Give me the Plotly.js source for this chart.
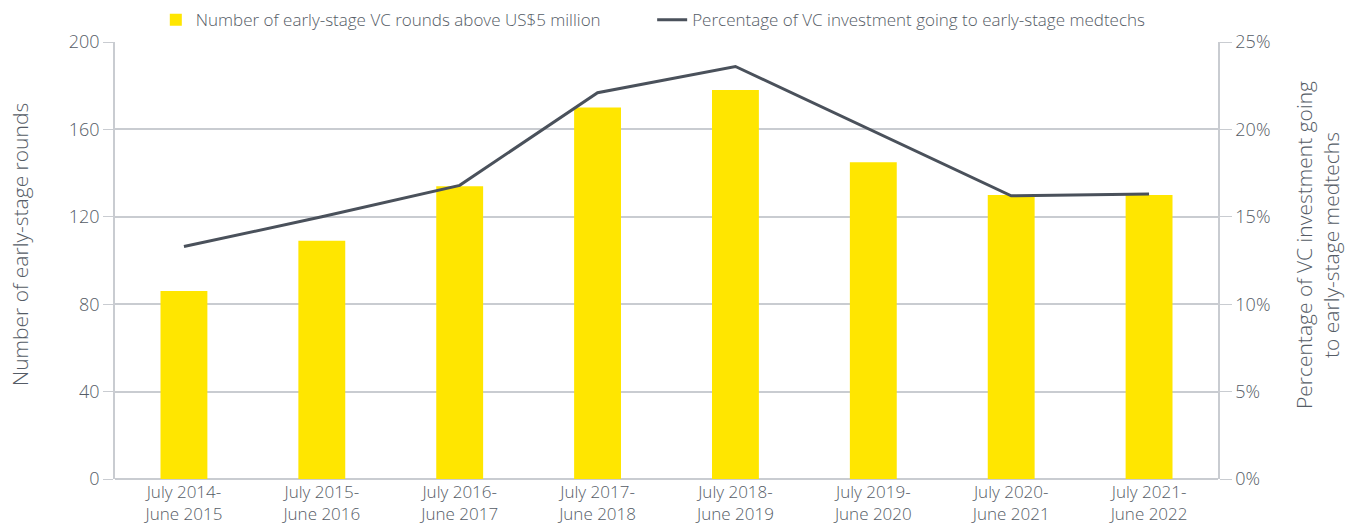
<!DOCTYPE html>
<html><head><meta charset="utf-8">
<script src="https://cdn.plot.ly/plotly-3.0.1.min.js"></script>
<style>html,body{margin:0;padding:0;background:#fff;}#chart{width:1346px;height:529px;}</style>
</head><body><div id="chart"></div>
<script>
var categories = ["July 2014-<br>June 2015","July 2015-<br>June 2016","July 2016-<br>June 2017","July 2017-<br>June 2018","July 2018-<br>June 2019","July 2019-<br>June 2020","July 2020-<br>June 2021","July 2021-<br>June 2022"];
var rounds = [86, 109, 134, 170, 178, 145, 130, 130];
var pctShare = [13.3, 15.0, 16.8, 22.1, 23.6, 19.9, 16.2, 16.3];
var leftTitle = "Number of early-stage rounds";
var rightTitle = "Percentage of VC investment going<br>to early-stage medtechs";

var textColor = "#555c66";
var gridColor = "#c9ccd1";
var font = "Open Sans, Liberation Sans, Arial, sans-serif";

var data = [
  {type:"bar", x:categories, y:rounds, name:"Number of early-stage VC rounds above US$5 million",
   marker:{color:"#FFE600"}, width:0.34, legend:"legend"},
  {type:"scatter", mode:"lines", x:categories, y:pctShare, yaxis:"y2", legend:"legend2",
   name:"Percentage of VC investment going to early-stage medtechs",
   line:{color:"#4a515b", width:3}}
];
var legendCommon = {orientation:"h", yref:"paper", y:1.05, yanchor:"middle", xanchor:"left",
  font:{size:17, color:textColor, family:font, weight:300}, bgcolor:"rgba(0,0,0,0)"};
var layout = {
  width:1346, height:529,
  margin:{l:115, r:128, t:42, b:50, autoexpand:false},
  paper_bgcolor:"#fff", plot_bgcolor:"#fff",
  font:{family:font, color:textColor, size:16, weight:300},
  showlegend:true,
  legend:Object.assign({}, legendCommon, {x:0.037}),
  legend2:Object.assign({}, legendCommon, {x:0.487}),
  xaxis:{tickfont:{size:17, weight:300}, showgrid:false, showline:false, ticks:"", zeroline:false, ticklabelstandoff:1},
  yaxis:{range:[0,200], dtick:40, showgrid:true, gridcolor:gridColor, gridwidth:1.5, zeroline:true, zerolinecolor:gridColor, zerolinewidth:1.5,
         showline:true, linecolor:gridColor, linewidth:1.5, ticks:"outside", ticklen:10, tickcolor:gridColor, tickfont:{size:18, weight:300}},
  yaxis2:{range:[0,25], dtick:5, ticksuffix:"%", overlaying:"y", side:"right", showgrid:false, zeroline:false,
          showline:true, linecolor:gridColor, linewidth:1.5, ticks:"outside", ticklen:12, tickcolor:gridColor, tickfont:{size:18, weight:300}},
  annotations:[
    {text:leftTitle, xref:"paper", yref:"paper", x:-0.0861, y:0.5355, textangle:-90, showarrow:false,
     xanchor:"center", yanchor:"middle", font:{size:21, color:textColor, weight:300}},
    {text:rightTitle, xref:"paper", yref:"paper", x:1.0907, y:0.5355, textangle:-90, showarrow:false,
     xanchor:"center", yanchor:"middle", align:"center", font:{size:21, color:textColor, weight:300}}
  ]
};
Plotly.newPlot("chart", data, layout, {displayModeBar:false});
</script></body></html>
